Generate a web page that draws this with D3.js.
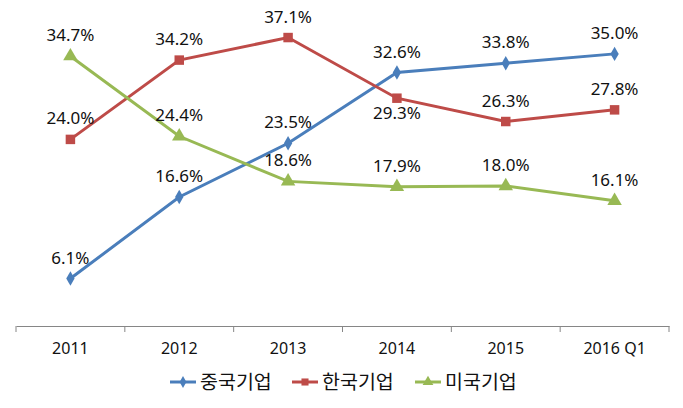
<!DOCTYPE html>
<html>
<head>
<meta charset="utf-8">
<script src="https://cdn.jsdelivr.net/npm/d3@7"></script>
<style>
body { margin: 0; background: #fff; }
text { font-family: "Noto Sans", "Noto Sans CJK KR", sans-serif; fill: #111; }
</style>
</head>
<body>
<div id="chart-area"></div>
<script>
var categories = ["2011", "2012", "2013", "2014", "2015", "2016 Q1"];
var seriesNames = ["중국기업", "한국기업", "미국기업"];
var china = [6.1, 16.6, 23.5, 32.6, 33.8, 35.0];
var korea = [24.0, 34.2, 37.1, 29.3, 26.3, 27.8];
var usa = [34.7, 24.4, 18.6, 17.9, 18.0, 16.1];
var colors = ["#4a7ebb", "#be4b48", "#98b954"];
var symbols = [d3.symbolDiamond, d3.symbolSquare, d3.symbolTriangle];
// label placement: 1 = above, -1 = below
var labelSide = [
    [1, 1, 1, 1, 1, 1],
    [1, 1, 1, -1, 1, 1],
    [1, 1, 1, 1, 1, 1]
];

var W = 683, H = 408;
var margin = { left: 16, top: 15, right: 14, bottom: 82 };
var width = W - margin.left - margin.right;
var height = H - margin.top - margin.bottom;

var svg = d3.select("#chart-area").append("svg")
    .attr("width", W).attr("height", H);
var g = svg.append("g")
    .attr("transform", "translate(" + margin.left + "," + margin.top + ")");

var x = d3.scaleBand().domain(categories).range([0, width]);
var y = d3.scaleLinear().domain([0, 40]).range([height, 0]);

var xAxis = g.append("g")
    .attr("transform", "translate(0," + height + ")")
    .call(d3.axisBottom(x).tickSize(0).tickPadding(17));
xAxis.select(".domain").attr("stroke", "#868686");
xAxis.selectAll("text").attr("font-size", "16px").attr("fill", "#111")
    .attr("font-family", "'Noto Sans', sans-serif");
// tick marks between categories
var bounds = categories.map(c => x(c)).concat([width]);
g.selectAll(".sep").data(bounds).enter().append("line")
    .attr("x1", d => d).attr("x2", d => d)
    .attr("y1", height).attr("y2", height + 6)
    .attr("stroke", "#868686");

var data = [china, korea, usa];
var cx = c => x(c) + x.bandwidth() / 2;
var line = d3.line().x((d, i) => cx(categories[i])).y(d => y(d));

data.forEach(function (vals, s) {
    g.append("path").datum(vals)
        .attr("fill", "none").attr("stroke", colors[s])
        .attr("stroke-width", 3).attr("d", line);
    g.selectAll(".m" + s).data(vals).enter().append("path")
        .attr("d", d3.symbol().type(symbols[s]).size(s == 0 ? 60 : 90))
        .attr("transform", (d, i) => "translate(" + cx(categories[i]) + "," + y(d) + ")")
        .attr("fill", colors[s]);
    g.selectAll(".l" + s).data(vals).enter().append("text")
        .attr("x", (d, i) => cx(categories[i]))
        .attr("y", (d, i) => y(d) + (labelSide[s][i] > 0 ? -15 : 21))
        .attr("text-anchor", "middle")
        .attr("font-size", "17px")
        .text(d => d.toFixed(1) + "%");
});

// legend
var legend = svg.append("g").attr("transform", "translate(0,382)");
var lx = [170, 292, 415];
seriesNames.forEach(function (name, s) {
    legend.append("line").attr("x1", lx[s]).attr("x2", lx[s] + 26)
        .attr("stroke", colors[s]).attr("stroke-width", 3);
    legend.append("path")
        .attr("d", d3.symbol().type(symbols[s]).size(s == 0 ? 40 : 50))
        .attr("transform", "translate(" + (lx[s] + 13) + ",0)")
        .attr("fill", colors[s]);
    legend.append("text").attr("x", lx[s] + 30).attr("y", 7)
        .attr("font-size", "19.5px")
        .attr("font-family", "'Noto Sans CJK KR', sans-serif")
        .text(name);
});
</script>
</body>
</html>
